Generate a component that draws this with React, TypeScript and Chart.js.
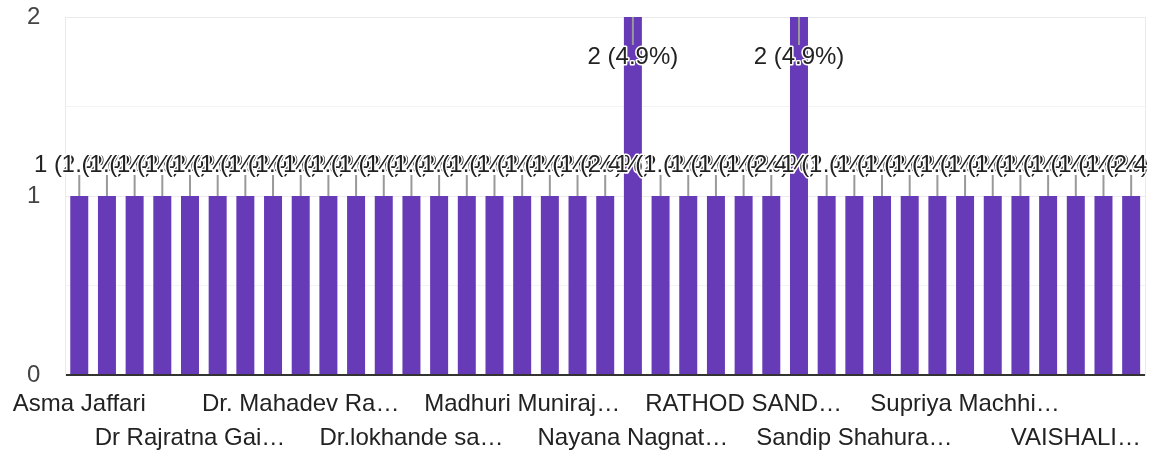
import React, { useEffect, useRef } from 'react';
import { Chart, registerables } from 'chart.js';

Chart.register(...registerables);

// Respondent names (only the ones legible on the axis are known)
const categories: string[] = [
  'Asma Jaffari', '', '', '',
  'Dr Rajratna Gai…', '', '', '',
  'Dr. Mahadev Ra…', '', '', '',
  'Dr.lokhande sa…', '', '', '',
  'Madhuri Muniraj…', '', '', '',
  'Nayana Nagnat…', '', '', '',
  'RATHOD SAND…', '', '', '',
  'Sandip Shahura…', '', '', '',
  'Supriya Machhi…', '', '', '',
  'VAISHALI…', '', '',
];

const responses: number[] = [
  1, 1, 1, 1, 1, 1, 1, 1, 1, 1,
  1, 1, 1, 1, 1, 1, 1, 1, 1, 1,
  2, 1, 1, 1, 1, 1, 2, 1, 1, 1,
  1, 1, 1, 1, 1, 1, 1, 1, 1,
];

const yTickLabels: number[] = [0, 1, 2];

const FONT = '"Liberation Sans", Arial, sans-serif';
const BAR_COLOR = '#673ab7';

const barLabelPlugin = {
  id: 'barLabels',
  afterDatasetsDraw(chart: any) {
    const { ctx, chartArea } = chart;
    const meta = chart.getDatasetMeta(0);
    const total = responses.reduce((a, b) => a + b, 0);
    ctx.save();
    ctx.beginPath();
    ctx.rect(0, 0, chartArea.right + 2, chart.height);
    ctx.clip();
    ctx.font = `24px ${FONT}`;
    ctx.textAlign = 'center';
    ctx.textBaseline = 'middle';
    const items = meta.data.map((bar: any, i: number) => {
      const v = responses[i];
      const text = `${v} (${((v / total) * 100).toFixed(1)}%)`;
      const top = bar.y;
      let ty: number, l0: number, l1: number;
      if (top - 31 - 12 < chartArea.top) {
        ty = top + 40;
        l0 = top;
        l1 = ty - 12;
      } else {
        ty = top - 31;
        l0 = ty + 10;
        l1 = top;
      }
      return { x: bar.x, ty, l0, l1, text };
    });
    ctx.strokeStyle = '#999999';
    ctx.lineWidth = 2;
    items.forEach((it: any) => {
      ctx.beginPath();
      ctx.moveTo(it.x, it.l0);
      ctx.lineTo(it.x, it.l1);
      ctx.stroke();
    });
    items.forEach((it: any) => {
      ctx.lineWidth = 3;
      ctx.lineJoin = 'round';
      ctx.strokeStyle = '#ffffff';
      ctx.strokeText(it.text, it.x, it.ty);
      ctx.fillStyle = '#222222';
      ctx.fillText(it.text, it.x, it.ty);
    });
    ctx.restore();
  },
};

export default function App() {
  const ref = useRef<HTMLCanvasElement | null>(null);

  useEffect(() => {
    if (!ref.current) return;
    const chart = new Chart(ref.current, {
      type: 'bar',
      data: {
        labels: categories,
        datasets: [
          {
            data: responses,
            backgroundColor: BAR_COLOR,
            borderWidth: 0,
            categoryPercentage: 1,
            barPercentage: 0.65,
          },
        ],
      },
      plugins: [barLabelPlugin],
      options: {
        animation: false,
        responsive: true,
        maintainAspectRatio: false,
        layout: { padding: { top: 17, left: 0, right: 0, bottom: 0 } },
        plugins: {
          legend: { display: false },
          tooltip: { enabled: false },
          title: { display: false },
        },
        scales: {
          x: {
            type: 'category',
            grid: { display: false, drawTicks: false },
            border: { display: false },
            afterFit: (s: any) => { s.height = 77; },
            ticks: {
              autoSkip: false,
              maxRotation: 0,
              minRotation: 0,
              padding: 12,
              color: '#222222',
              font: { family: FONT, size: 24, lineHeight: 34 / 24 },
              callback: (_v: any, i: number) => {
                const s = categories[i];
                if (!s) return '';
                return i % 8 === 4 ? ['', s] : s;
              },
            },
          },
          y: {
            min: 0,
            max: 2,
            position: 'left',
            afterFit: (s: any) => {
              s.width = 62;
              s.paddingTop = 14;
              s.paddingBottom = 14;
            },
            border: { display: true, color: '#ebebeb', width: 1 },
            grid: {
              drawTicks: false,
              color: (c: any) =>
                c.tick.value === 0 ? '#333333' : c.tick.value % 1 === 0 ? '#ebebeb' : '#f3f3f3',
              lineWidth: (c: any) => (c.tick.value === 0 ? 2 : 1),
            },
            ticks: {
              stepSize: 0.5,
              padding: 25,
              color: '#444444',
              font: { family: FONT, size: 24 },
              callback: (v: any) => (yTickLabels.includes(Number(v)) ? String(v) : ''),
            },
          },
          y2: {
            min: 0,
            max: 2,
            position: 'right',
            afterFit: (s: any) => {
              s.width = 6;
              s.paddingTop = 0;
              s.paddingBottom = 0;
            },
            border: { display: true, color: '#ebebeb', width: 1 },
            grid: { display: false, drawTicks: false },
            ticks: { display: false },
          },
        },
      },
    } as any);
    return () => chart.destroy();
  }, []);

  return (
    <div style={{ position: 'absolute', left: 0, top: 0, width: 1151, height: 452 }}>
      <canvas ref={ref} />
    </div>
  );
}
